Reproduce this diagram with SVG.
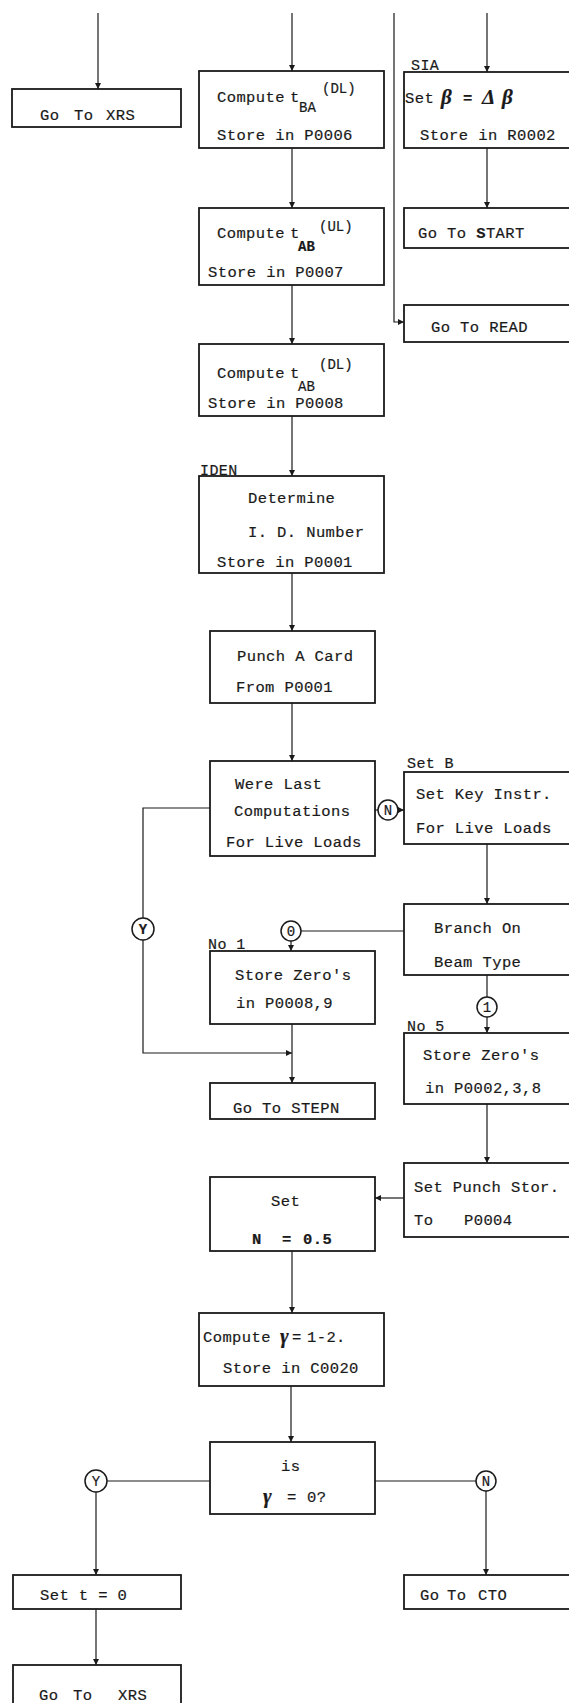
<svg xmlns="http://www.w3.org/2000/svg" width="569" height="1703" viewBox="0 0 569 1703">
<style>
.bg{fill:#ffffff}
.box{fill:none;stroke:#1a1a1a;stroke-width:1.8}
.ln{fill:none;stroke:#1a1a1a;stroke-width:1.2}
.cir{fill:#ffffff;stroke:#1a1a1a;stroke-width:1.5}
text{font-family:"Liberation Mono","DejaVu Sans Mono",monospace;font-size:15.5px;letter-spacing:0.4px;fill:#1a1a1a;stroke:#1a1a1a;stroke-width:0.2px}
.sm{font-size:14px;letter-spacing:0}
.lbl{font-size:15px}
.gk{font-family:"Liberation Serif","DejaVu Serif",serif;font-style:italic;font-weight:bold;font-size:21px;letter-spacing:0}
.b{font-weight:bold}
.ct{text-anchor:middle;font-size:14px;letter-spacing:0}
</style>
<defs>
<marker id="ah" viewBox="0 0 8 8" refX="8" refY="4" markerWidth="6" markerHeight="6" markerUnits="userSpaceOnUse" orient="auto">
<path d="M0,0 L8,4 L0,8 z" fill="#1a1a1a"/>
</marker>
</defs>
<rect class="bg" x="0" y="0" width="569" height="1703"/>

<g id="connectors">
<path class="ln" d="M98,13 V89" marker-end="url(#ah)"/>
<path class="ln" d="M292,13 V71" marker-end="url(#ah)"/>
<path class="ln" d="M292,148 V208" marker-end="url(#ah)"/>
<path class="ln" d="M292,285 V344" marker-end="url(#ah)"/>
<path class="ln" d="M292,416 V476" marker-end="url(#ah)"/>
<path class="ln" d="M292,573 V631" marker-end="url(#ah)"/>
<path class="ln" d="M292,703 V761" marker-end="url(#ah)"/>
<path class="ln" d="M394,13 V322 H404" marker-end="url(#ah)"/>
<path class="ln" d="M487,13 V72" marker-end="url(#ah)"/>
<path class="ln" d="M487,148 V208" marker-end="url(#ah)"/>
<path class="ln" d="M375,810 H378"/>
<path class="ln" d="M398,810 H404" marker-end="url(#ah)"/>
<path class="ln" d="M210,808 H143 V918"/>
<path class="ln" d="M143,940 V1053 H292" marker-end="url(#ah)"/>
<path class="ln" d="M487,844 V904" marker-end="url(#ah)"/>
<path class="ln" d="M404,931 H301"/>
<path class="ln" d="M291,941 V951" marker-end="url(#ah)"/>
<path class="ln" d="M487,975 V997"/>
<path class="ln" d="M487,1017 V1033" marker-end="url(#ah)"/>
<path class="ln" d="M292,1024 V1083" marker-end="url(#ah)"/>
<path class="ln" d="M487,1104 V1163" marker-end="url(#ah)"/>
<path class="ln" d="M404,1198 H375" marker-end="url(#ah)"/>
<path class="ln" d="M292,1251 V1313" marker-end="url(#ah)"/>
<path class="ln" d="M291,1386 V1442" marker-end="url(#ah)"/>
<path class="ln" d="M210,1481 H107"/>
<path class="ln" d="M96,1492 V1575" marker-end="url(#ah)"/>
<path class="ln" d="M375,1481 H476"/>
<path class="ln" d="M486,1491 V1575" marker-end="url(#ah)"/>
<path class="ln" d="M96,1609 V1665" marker-end="url(#ah)"/>
<circle class="cir" cx="388" cy="810" r="10"/>
<text class="ct" x="388" y="815">N</text>
<circle class="cir" cx="143" cy="929" r="11"/>
<text class="ct b" x="143" y="934">Y</text>
<circle class="cir" cx="291" cy="931" r="10"/>
<text class="ct" x="291" y="936">0</text>
<circle class="cir" cx="487" cy="1007" r="10"/>
<text class="ct" x="487" y="1012">1</text>
<circle class="cir" cx="96" cy="1481" r="11"/>
<text class="ct" x="96" y="1486">Y</text>
<circle class="cir" cx="486" cy="1481" r="10"/>
<text class="ct" x="486" y="1486">N</text>
</g>

<g id="goto-xrs-top">
<rect class="box" x="12" y="89" width="169" height="38"/>
<text y="120"><tspan x="40">Go</tspan><tspan x="74">To</tspan><tspan x="106">XRS</tspan></text>
</g>

<g id="compute-tba">
<rect class="box" x="199" y="71" width="185" height="77"/>
<text x="217" y="102">Compute</text>
<text x="290" y="102">t</text>
<text class="sm" x="299" y="112">BA</text>
<text class="sm" x="322" y="93">(DL)</text>
<text x="217" y="140">Store in P0006</text>
</g>

<g id="sia">
<rect class="box" x="404" y="72" width="180" height="76"/>
<text class="lbl" x="411" y="70">SIA</text>
<text x="405" y="103">Set</text>
<text class="gk" x="441" y="104">β</text>
<text class="b" x="463" y="103">=</text>
<text class="gk" x="482" y="104">Δ</text>
<text class="gk" x="502" y="104">β</text>
<text x="420" y="140">Store in R0002</text>
</g>

<g id="compute-tab-ul">
<rect class="box" x="199" y="208" width="185" height="77"/>
<text x="217" y="238">Compute</text>
<text x="290" y="238">t</text>
<text class="sm b" x="298" y="251">AB</text>
<text class="sm" x="319" y="231">(UL)</text>
<text x="208" y="277">Store in P0007</text>
</g>

<g id="goto-start">
<rect class="box" x="404" y="208" width="180" height="40"/>
<text x="418" y="238">Go To <tspan class="b">S</tspan>TART</text>
</g>

<g id="goto-read">
<rect class="box" x="404" y="305" width="180" height="37"/>
<text x="431" y="332">Go To READ</text>
</g>

<g id="compute-tab-dl">
<rect class="box" x="199" y="344" width="185" height="72"/>
<text x="217" y="378">Compute</text>
<text x="290" y="378">t</text>
<text class="sm" x="298" y="391">AB</text>
<text class="sm" x="319" y="369">(DL)</text>
<text x="208" y="408">Store in P0008</text>
</g>

<g id="iden">
<rect class="box" x="199" y="476" width="185" height="97"/>
<text class="lbl" x="200" y="475">IDEN</text>
<text x="248" y="503">Determine</text>
<text x="248" y="537">I. D. Number</text>
<text x="217" y="567">Store in P0001</text>
</g>

<g id="punch-card">
<rect class="box" x="210" y="631" width="165" height="72"/>
<text x="237" y="661">Punch A Card</text>
<text x="236" y="692">From P0001</text>
</g>

<g id="were-last">
<rect class="box" x="210" y="761" width="165" height="95"/>
<text x="235" y="789">Were Last</text>
<text x="234" y="816">Computations</text>
<text x="226" y="847">For Live Loads</text>
</g>

<g id="set-b">
<rect class="box" x="404" y="772" width="180" height="72"/>
<text class="lbl" x="407" y="768">Set B</text>
<text x="416" y="799">Set Key Instr.</text>
<text x="416" y="833">For Live Loads</text>
</g>

<g id="branch">
<rect class="box" x="404" y="904" width="180" height="71"/>
<text x="434" y="933">Branch On</text>
<text x="434" y="967">Beam Type</text>
</g>

<g id="no1">
<rect class="box" x="210" y="951" width="165" height="73"/>
<text class="lbl" x="208" y="949">No 1</text>
<text x="235" y="980">Store Zero's</text>
<text x="236" y="1008">in P0008,9</text>
</g>

<g id="goto-stepn">
<rect class="box" x="210" y="1083" width="165" height="36"/>
<text x="233" y="1113">Go To STEPN</text>
</g>

<g id="no5">
<rect class="box" x="404" y="1033" width="180" height="71"/>
<text class="lbl" x="407" y="1031">No 5</text>
<text x="423" y="1060">Store Zero's</text>
<text x="425" y="1093">in P0002,3,8</text>
</g>

<g id="punch-stor">
<rect class="box" x="404" y="1163" width="180" height="74"/>
<text x="414" y="1192">Set Punch Stor.</text>
<text y="1225"><tspan x="414">To</tspan><tspan x="464">P0004</tspan></text>
</g>

<g id="set-n">
<rect class="box" x="210" y="1177" width="165" height="74"/>
<text x="271" y="1206">Set</text>
<text class="b" y="1244"><tspan x="252">N</tspan><tspan x="282">=</tspan><tspan x="303">0.5</tspan></text>
</g>

<g id="compute-gamma">
<rect class="box" x="199" y="1313" width="185" height="73"/>
<text x="203" y="1342">Compute</text>
<text class="gk" x="280" y="1343">γ</text>
<text x="292" y="1342">=</text>
<text x="307" y="1342">1-2.</text>
<text x="223" y="1373">Store in C0020</text>
</g>

<g id="is-gamma">
<rect class="box" x="210" y="1442" width="165" height="72"/>
<text x="281" y="1471">is</text>
<text class="gk" x="263" y="1503">γ</text>
<text y="1502"><tspan x="287">=</tspan><tspan x="307">0?</tspan></text>
</g>

<g id="set-t">
<rect class="box" x="13" y="1575" width="168" height="34"/>
<text x="40" y="1600">Set t = 0</text>
</g>

<g id="goto-cto">
<rect class="box" x="404" y="1575" width="180" height="34"/>
<text y="1600"><tspan x="420">Go</tspan><tspan x="447">To</tspan><tspan x="478">CTO</tspan></text>
</g>

<g id="goto-xrs-bottom">
<rect class="box" x="13" y="1665" width="168" height="60"/>
<text y="1700"><tspan x="39">Go</tspan><tspan x="73">To</tspan><tspan x="118">XRS</tspan></text>
</g>
</svg>
